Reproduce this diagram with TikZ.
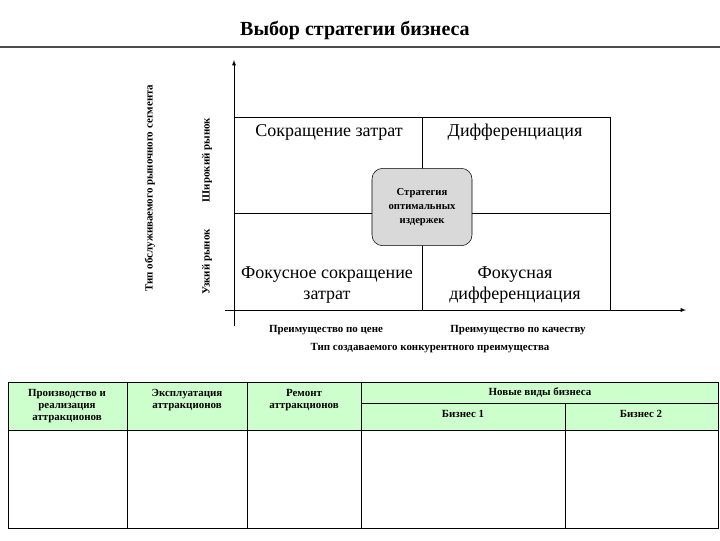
\documentclass[tikz,border=0pt]{standalone}
\usepackage{fontspec}
\setmainfont{Liberation Serif}
\usetikzlibrary{positioning}
\definecolor{headgreen}{RGB}{204,255,204}
\definecolor{boxgray}{RGB}{217,217,217}
\tikzset{
    small/.style={font=\fontsize{8.2}{9}\selectfont\bfseries, align=center},
    quad/.style={font=\fontsize{13.5}{15.5}\selectfont, align=center},
}
\begin{document}
\begin{tikzpicture}[x=0.75pt, y=-0.75pt]
    \useasboundingbox (0,0) rectangle (720,540);
    \node[font=\fontsize{15}{17}\selectfont\bfseries] (title) at (355,30) {Выбор стратегии бизнеса};
    \draw [line width=1.2pt, black!70] (0,47) -- (720,47);
    % axes
    \coordinate (ybot) at (234,326);
    \coordinate (ytop) at (234,60);
    \coordinate (xbeg) at (225,310);
    \coordinate (xend) at (686,310);
    \draw [-latex] (ybot) -- (ytop);
    \draw [-latex] (xbeg) -- (xend);
    % grid
    \draw (234,117) rectangle (610,310);
    \draw (422,117) -- (422,310);
    \draw (234,213) -- (610,213);
    \node[quad] (q1) at (329,132) {Сокращение затрат};
    \node[quad] (q2) at (515,132) {Дифференциация};
    \node[quad] (q3) at (327,285) {Фокусное сокращение\\затрат};
    \node[quad] (q4) at (515,285) {Фокусная\\дифференциация};
    \node[draw, fill=boxgray, rounded corners=8pt, minimum width=75pt, minimum height=58pt, small, font=\fontsize{8}{10.5}\selectfont\bfseries] (mid) at (422,207) {Стратегия\\оптимальных\\издержек};
    % axis labels
    \node[small, rotate=90] (ytitle) at (150,188) {Тип обслуживаемого рыночного сегмента};
    \node[small, rotate=90] (wide) at (207,160) {Широкий рынок};
    \node[small, rotate=90] (narrow) at (207,262) {Узкий рынок};
    \node[small] (price) at (326,330) {Преимущество по цене};
    \node[small] (qual) at (518,330) {Преимущество по качеству};
    \node[small] (xtitle) at (430,348) {Тип создаваемого конкурентного преимущества};
    % table
    \fill [headgreen] (8,382) rectangle (718,430);
    \draw (8,382) rectangle (718,528);
    \draw (8,430) -- (718,430);
    \draw (361,403) -- (718,403);
    \foreach \x in {127,247,361} \draw (\x,382) -- (\x,528);
    \draw (565,403) -- (565,528);
    \node[small, anchor=north] (c1) at (67,385) {Производство и\\реализация\\аттракционов};
    \node[small, anchor=north] (c2) at (187,385) {Эксплуатация\\аттракционов};
    \node[small, anchor=north] (c3) at (304,385) {Ремонт\\аттракционов};
    \node[small] (c4) at (540,393) {Новые виды бизнеса};
    \node[small] (b1) at (463,414) {Бизнес 1};
    \node[small] (b2) at (641,414) {Бизнес 2};
\end{tikzpicture}
\end{document}
